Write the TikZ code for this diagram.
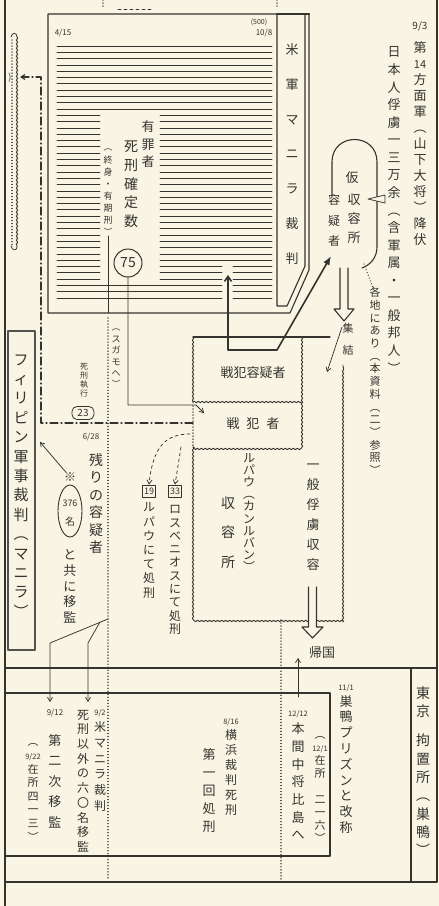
\documentclass[tikz,border=0pt]{standalone}
\usepackage{fontspec}
\newfontfamily\jp{Noto Sans CJK JP}
\usetikzlibrary{arrows.meta,decorations.pathmorphing,shapes.geometric}
\definecolor{paper}{HTML}{F9F5E5}
\definecolor{ink}{HTML}{35332F}
\makeatletter
\def\vc@stop{\vc@end}
\def\vc@loop#1{\def\vc@arg{#1}\ifx\vc@arg\vc@stop\else\hbox to 0pt{\hss#1\hss}\expandafter\vc@loop\fi}
\newcommand\vtext[2]{\vbox{\baselineskip=#1\lineskip=0pt\lineskiplimit=-1000pt\vc@loop#2\vc@end}}
\makeatother
\newcommand\V[3]{\fontsize{#1}{#1}\selectfont\vtext{#2pt}{#3}}
\newcommand\HT[2]{\fontsize{#1}{#1}\selectfont #2}
\newcommand\sm[1]{{\fontsize{7.5}{7.5}\selectfont #1}}
\begin{document}
\begin{tikzpicture}[x=1pt,y=-1pt,line cap=round,line join=round,
  ln/.style={draw=ink,line width=1.1pt},
  thk/.style={draw=ink,line width=1.6pt},
  thn/.style={draw=ink,line width=0.75pt},
  hatch/.style={draw=ink,line width=0.8pt},
  wavy/.style={draw=ink,line width=0.9pt,decorate,decoration={snake,amplitude=0.7pt,segment length=4pt}},
  dotl/.style={draw=ink,line width=1.3pt,dash pattern=on 0.01pt off 3pt},
  dashdot/.style={draw=ink,line width=1.1pt,dash pattern=on 8pt off 3pt on 1pt off 3pt},
  txt/.style={inner sep=0pt,text=ink,font=\jp},
  numbox/.style={draw=ink,line width=0.8pt,inner sep=1pt,minimum width=13pt,minimum height=12pt,text=ink,font=\jp\fontsize{9}{9}\selectfont},
  >={Straight Barb[length=4pt,width=5pt]}]
\fill[paper] (0,0) rectangle (439,906);
\useasboundingbox (0,0) rectangle (439,906);

% frame
\draw[ln] (5,0) -- (5,906);
\draw[ln] (437,0) -- (437,882);
\draw[ln] (5,668) -- (437,668);
\draw[ln] (5,693) -- (330,693) -- (330,856) -- (5,856);
\draw[ln] (5,882) -- (437,882);
\draw[ln] (411,668) -- (411,882);
% top fragments
\draw[dotl] (103,0) -- (103,8);
\draw[thn,dashed] (118,9) -- (152,9);
\draw[dotl] (277,0) -- (277,8);

% big box
\draw[ln] (309,270) -- (309,14) -- (48,14) -- (48,313) -- (290,313) -- cycle;
\draw[ln] (277,14) -- (277,306) -- (287,306) -- (305,266) -- (305,14);
\draw[draw=ink,line width=2pt] (277,14) -- (309,14);
\foreach \i in {0,...,40}{
  \pgfmathsetmacro\yy{46+6.3*\i}
  \ifdim\yy pt<115pt \draw[hatch] (57,\yy) -- (272,\yy);
  \else\ifdim\yy pt<266pt \draw[hatch] (57,\yy) -- (100,\yy) (160,\yy) -- (272,\yy);
  \else\ifdim\yy pt<285pt \draw[hatch] (57,\yy) -- (100,\yy) (160,\yy) -- (222,\yy) (233,\yy) -- (272,\yy);
  \else \draw[hatch] (57,\yy) -- (222,\yy) (233,\yy) -- (272,\yy);
  \fi\fi\fi
}
\node[txt] (d415) at (63,33) {\HT{8}{4/15}};
\node[txt] (d500) at (259,22) {\HT{7}{(500)}};
\node[txt] (d108) at (264,33) {\HT{8}{10/8}};
\node[txt] (beigun) at (292,154) {\V{13}{34.7}{米軍マニラ裁判}};
\node[txt] (yuzai) at (148,144.5) {\V{13}{17.5}{有罪者}};
\node[txt] (shikei) at (131,184.5) {\V{14}{18.75}{死刑確定数}};
\node[txt] (shushin) at (108,192.5) {\V{9}{12.1}{︵終身・有期刑︶}};
\node[draw=ink,line width=1pt,circle,minimum size=28pt,inner sep=0pt,text=ink,font=\jp\fontsize{14}{14}\selectfont] (n75) at (128,263) {75};

% left bracket
\draw[wavy] (17,37) -- (17,247);
\draw[dotl] (12,40) -- (12,245);
\draw[thn] (11,37) .. controls (12,32) and (17,32) .. (17,37);
\draw[thn] (11,246) .. controls (12,251) and (17,251) .. (17,247);
\node[txt] (paren) at (10,78) {\HT{9}{)}};

% right side texts
\node[txt] (d93) at (420,26) {\HT{10}{9/3}};
\node[txt] (dai14) at (420,144) {\V{13}{16}{第{\fontsize{11}{11}\selectfont 14}方面軍︵山下大将︶降伏}};
\node[txt] (nihon) at (394,210) {\V{13}{17.56}{日本人俘虜一三万余︵含軍属・一般邦人︶}};
\node[txt] (kakuchi) at (375,381) {\V{11}{12.7}{各地にあり︵本資料︵二︶参照︶}};

% temporary camp
\draw[ln] (332,196) -- (332,162) .. controls (332,132) and (377,132) .. (377,162) -- (377,247) .. controls (377,258) and (370,265) .. (362,268);
\draw[thn,fill=paper] (368,199) -- (385,195) -- (385,203) -- cycle;
\draw[dotl] (364,264) -- (373,288);
\node[txt] (kari) at (352,178) {\HT{13}{仮}};
\node[txt] (shuyo) at (354,219) {\V{13}{19}{収容所}};
\node[txt] (yogi) at (334,220.5) {\V{12}{20.5}{容疑者}};
\draw[thk,{Latex[length=9pt,width=7pt]}-{Straight Barb[length=5pt,width=7pt]}] (331,256) -- (277,350) -- (228,350) -- (228,275);
\draw[ln,fill=paper] (340,268) -- (340,309) -- (334,309) -- (344,321) -- (354,309) -- (348,309) -- (348,268);
\node[txt] (shuketsu) at (348,339) {\V{11}{22}{集結}};
\draw[thn,->] (342,327) -- (327,372);

% main camp region
\draw[ln] (193,337) -- (330,337);
\draw[wavy] (193,337) -- (193,403);
\draw[dotl] (193,406) -- (193,446);
\draw[wavy] (193,447) -- (193,620) -- (343,620) -- (343,365);
\draw[wavy] (302,337) -- (302,447) -- (193,447);
\draw[wavy] (193,402) -- (302,402);
\node[txt] (senpanyogi) at (253,373) {\HT{13}{戦犯容疑者}};
\node[txt] (senpan) at (253,424) {\HT{13}{戦\hspace{7pt}犯\hspace{7pt}者}};
\node[txt] (rupau) at (249,512.5) {\V{12}{12.1}{ルパウ︵カンルバン︶}};
\node[txt] (shuyojo) at (228,532.5) {\V{14}{29.5}{収容所}};
\node[txt] (ippan) at (313,517) {\V{13}{20}{一般俘虜収容}};
\draw[ln,fill=paper] (308.5,587) -- (308.5,627) -- (302,627) -- (312.5,638) -- (323,627) -- (316.5,627) -- (316.5,587);
\node[txt] (kikoku) at (322,653) {\HT{13}{帰国}};

% 75 path
\draw[thn,->] (n75.south) -- (128,405) -- (196,405) -- (204,413);
% sugamo line
\draw[thn] (shushin.south) -- (108,313);
\draw[dotl] (108,318) -- (108,880);
\node[txt] (sugamo) at (116,358.5) {\V{9}{11.4}{︵スガモへ︶}};
% dash-dot
\draw[dashdot,->] (193,423) -- (41,423) -- (41,77) -- (20,77);

% Philippine trial
\draw[draw=ink!85,line width=2.5pt] (8,331) rectangle (35,650);
\node[txt] (phil) at (21,486) {\V{15}{19.4}{フィリピン軍事裁判︵マニラ︶}};

\node[txt] (shikeishikko) at (84,380) {\V{8}{9}{死刑執行}};
\node[draw=ink,line width=0.8pt,rounded corners=5pt,minimum width=22pt,minimum height=13pt,inner sep=0pt,text=ink,font=\jp\fontsize{10}{10}\selectfont] (n23) at (83,413) {23};
\node[txt] (d628) at (91,437) {\HT{8}{6/28}};
\node[txt] (nokori) at (96,503.5) {\V{14}{17.4}{残りの容疑者}};
\node[txt] (kome) at (70,477) {\HT{12}{※}};
\node[draw=ink,line width=0.9pt,ellipse,minimum width=24pt,minimum height=52pt,inner sep=0pt] (n376) at (70,511) {};
\node[txt] (t376) at (70,503) {\HT{9}{376}};
\node[txt] (mei) at (70,522) {\HT{10}{名}};
\node[txt] (tomoni) at (70,586.5) {\V{13}{15.75}{と共に移監}};
\coordinate (philpt) at (40,442);
\draw[thn,->] (kome) -- (philpt);

% executions
\node[numbox] (b19) at (149,491) {19};
\node[numbox] (b33) at (175,491) {33};
\draw[thn,dashed,->] (190,434) .. controls (166,434) and (153,446) .. (b19.north);
\draw[thn,dashed,->] (181,447) -- (b33.north);
\node[txt] (rupau2) at (149,550.5) {\V{12}{14.2}{ルパウにて処刑}};
\node[txt] (losb) at (175,570) {\V{12}{13.3}{ロスベニオスにて処刑}};

% bottom branches
\draw[thn,->] (108,619) -- (50,643) -- (50,702);
\draw[thn,->] (100,622) -- (88,643) -- (88,702);
\node[txt] (d912) at (55,713) {\HT{8}{9/12}};
\node[txt] (daini) at (55,781) {\V{13}{20.5}{第二次移監}};
\node[txt] (zaisho1) at (33,792.5) {\V{11}{13.6}{︵{\sm{9/22}}在所四一三︶}};
\node[txt] (beimanira) at (100,760.5) {\V{12}{15.8}{{\sm{9/2}}米マニラ裁判}};
\node[txt] (igai) at (83,781) {\V{12}{14.7}{死刑以外の六〇名移監}};
\node[txt] (yokohama) at (231,767) {\V{12}{15}{{\sm{8/16}}横浜裁判死刑}};
\node[txt] (daiichi) at (209,791) {\V{13}{18}{第一回処刑}};
\draw[dotl] (281,620) -- (281,880);
\node[txt] (honma) at (298,775) {\V{13}{17.7}{{\sm{12/12}}本間中将比島へ}};
\draw[thn,->] (298,697) -- (298,658);
\node[txt] (zaisho2) at (320,789.5) {\V{11}{13.1}{︵{\sm{12/1}}在所{}二一六︶}};
\node[txt] (sugamop) at (346,759) {\V{13}{15.8}{{\sm{11/1}}巣鴨プリズンと改称}};
\node[txt] (tokyo) at (423,702) {\V{14}{18}{東京}};
\node[txt] (kochisho) at (423,795) {\V{14}{18.3}{拘置所︵巣鴨︶}};
\end{tikzpicture}
\end{document}
